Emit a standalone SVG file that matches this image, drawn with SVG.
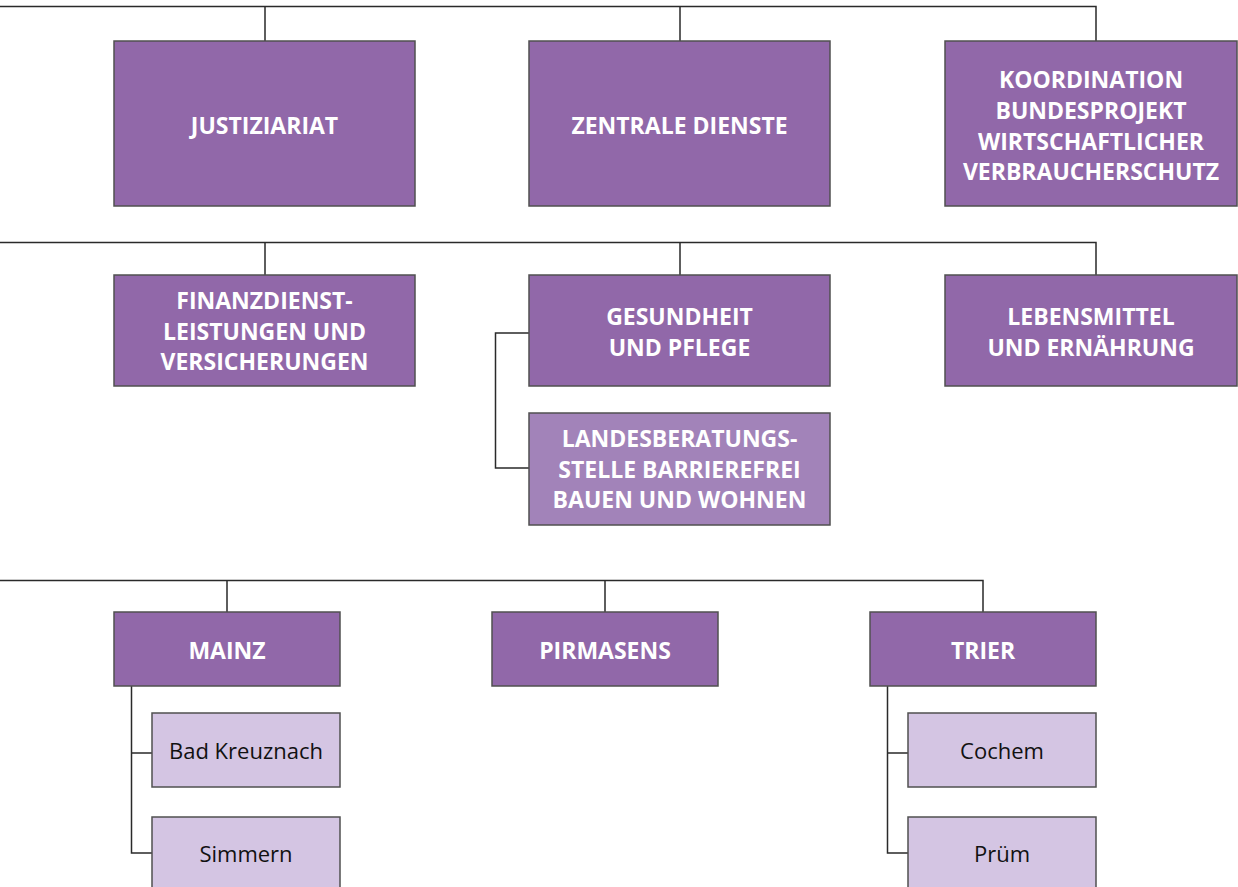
<svg xmlns="http://www.w3.org/2000/svg" width="1238" height="887" viewBox="0 0 1238 887">
<style>
.n1{fill:#9168a9;stroke:#505050;stroke-width:1.5}
.n2{fill:#a283b9;stroke:#505050;stroke-width:1.5}
.n3{fill:#d4c5e3;stroke:#505050;stroke-width:1.5}
.t{font-family:"Open Sans","Liberation Sans",sans-serif;font-weight:bold;font-size:23px;fill:#ffffff;text-anchor:middle}
.s{font-family:"Open Sans","Liberation Sans",sans-serif;font-size:22px;fill:#111111;text-anchor:middle}
.c{fill:none;stroke:#2a2a2a;stroke-width:1.5}
</style>
<rect width="1238" height="887" fill="#ffffff"/>
<g id="connectors">
<path class="c" d="M0 6.5H1096V41M265 6.5V41M680 6.5V41"/>
<path class="c" d="M0 242.5H1096V275M265 242.5V275M680 242.5V275"/>
<path class="c" d="M529 333H495.5V468H529"/>
<path class="c" d="M0 580.5H983V612M227 580.5V612M605 580.5V612"/>
<path class="c" d="M131.5 686V853H152M131.5 753H152"/>
<path class="c" d="M887.5 686V853H908M887.5 753H908"/>
</g>
<g id="justiziariat"><rect class="n1" x="114" y="41" width="301" height="165"/><text class="t" x="264.5" y="134">JUSTIZIARIAT</text></g>
<g id="zentrale-dienste"><rect class="n1" x="529" y="41" width="301" height="165"/><text class="t" x="679.5" y="134">ZENTRALE DIENSTE</text></g>
<g id="koordination"><rect class="n1" x="945" y="41" width="292" height="165"/><text class="t" x="1091" y="88"><tspan x="1091">KOORDINATION</tspan><tspan x="1091" y="118.5">BUNDESPROJEKT</tspan><tspan x="1091" y="149.5">WIRTSCHAFTLICHER</tspan><tspan x="1091" y="180">VERBRAUCHERSCHUTZ</tspan></text></g>
<g id="finanz"><rect class="n1" x="114" y="275" width="301" height="111"/><text class="t" x="264.5" y="309"><tspan x="264.5">FINANZDIENST-</tspan><tspan x="264.5" y="339.5">LEISTUNGEN UND</tspan><tspan x="264.5" y="370">VERSICHERUNGEN</tspan></text></g>
<g id="gesundheit"><rect class="n1" x="529" y="275" width="301" height="111"/><text class="t" x="679.5" y="325"><tspan x="679.5">GESUNDHEIT</tspan><tspan x="679.5" y="356">UND PFLEGE</tspan></text></g>
<g id="lebensmittel"><rect class="n1" x="945" y="275" width="292" height="111"/><text class="t" x="1091" y="325"><tspan x="1091">LEBENSMITTEL</tspan><tspan x="1091" y="356">UND ERNÄHRUNG</tspan></text></g>
<g id="landesberatung"><rect class="n2" x="529" y="413" width="301" height="112"/><text class="t" x="679.5" y="447"><tspan x="679.5">LANDESBERATUNGS-</tspan><tspan x="679.5" y="478">STELLE BARRIEREFREI</tspan><tspan x="679.5" y="508">BAUEN UND WOHNEN</tspan></text></g>
<g id="mainz"><rect class="n1" x="114" y="612" width="226" height="74"/><text class="t" x="227" y="659">MAINZ</text></g>
<g id="pirmasens"><rect class="n1" x="492" y="612" width="226" height="74"/><text class="t" x="605" y="659">PIRMASENS</text></g>
<g id="trier"><rect class="n1" x="870" y="612" width="226" height="74"/><text class="t" x="983" y="659">TRIER</text></g>
<g id="bad-kreuznach"><rect class="n3" x="152" y="713" width="188" height="74"/><text class="s" x="246" y="759">Bad Kreuznach</text></g>
<g id="simmern"><rect class="n3" x="152" y="817" width="188" height="74"/><text class="s" x="246" y="862">Simmern</text></g>
<g id="cochem"><rect class="n3" x="908" y="713" width="188" height="74"/><text class="s" x="1002" y="759">Cochem</text></g>
<g id="pruem"><rect class="n3" x="908" y="817" width="188" height="74"/><text class="s" x="1002" y="862">Prüm</text></g>
</svg>
